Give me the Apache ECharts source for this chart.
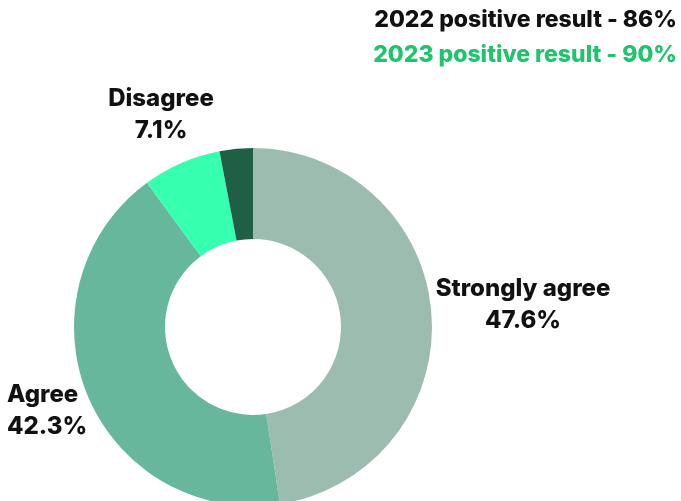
<!DOCTYPE html>
<html>
<head>
<meta charset="utf-8">
<script src="https://cdn.jsdelivr.net/npm/echarts@6/dist/echarts.min.js"></script>
<style>
  html, body { margin: 0; padding: 0; background: #fff; }
  #chart { width: 681px; height: 501px; }
</style>
</head>
<body>
<div id="chart"></div>
<script>
// Survey response shares (percent)
const categories = ['Strongly agree', 'Agree', 'Disagree', 'Strongly disagree'];
const shares = [47.6, 42.3, 7.1, 3.0];
const showLabel = [true, true, true, false];
const headlines = ['2022 positive result - 86%', '2023 positive result - 90%'];

const sliceColors = ['#9dbcb0', '#67b79c', '#37ffb0', '#1e5f45'];
// Label anchor points: [x, y, align]
const labelSpots = [
  [523, 305, 'center'],
  [7, 411, 'left'],
  [161, 115, 'center'],
  [0, 0, 'left']
];

const chart = echarts.init(document.getElementById('chart'));
const font = 'Inter, "Noto Sans", sans-serif';

chart.setOption({
  animation: false,
  title: [
    {
      text: headlines[0], right: 4, top: 9, padding: 0,
      textStyle: { fontFamily: font, fontWeight: 800, fontSize: 23, color: '#111' }
    },
    {
      text: headlines[1], right: 4, top: 44, padding: 0,
      textStyle: { fontFamily: font, fontWeight: 800, fontSize: 23, color: '#1fc46c' }
    }
  ],
  series: [{
    type: 'pie',
    center: [253, 327],
    radius: [88, 179],
    startAngle: 90,
    clockwise: true,
    avoidLabelOverlap: false,
    labelLine: { show: false },
    label: {
      show: true,
      position: 'outside',
      fontFamily: font,
      fontWeight: 800,
      fontSize: 24,
      lineHeight: 32,
      color: '#111',
      formatter: p => p.name + '\n' + p.value.toFixed(1) + '%'
    },
    labelLayout: p => {
      const s = labelSpots[p.dataIndex];
      return { x: s[0], y: s[1], align: s[2], verticalAlign: 'middle' };
    },
    data: categories.map((c, i) => ({
      name: c,
      value: shares[i],
      itemStyle: { color: sliceColors[i] },
      label: { show: showLabel[i] }
    }))
  }]
});
</script>
</body>
</html>
